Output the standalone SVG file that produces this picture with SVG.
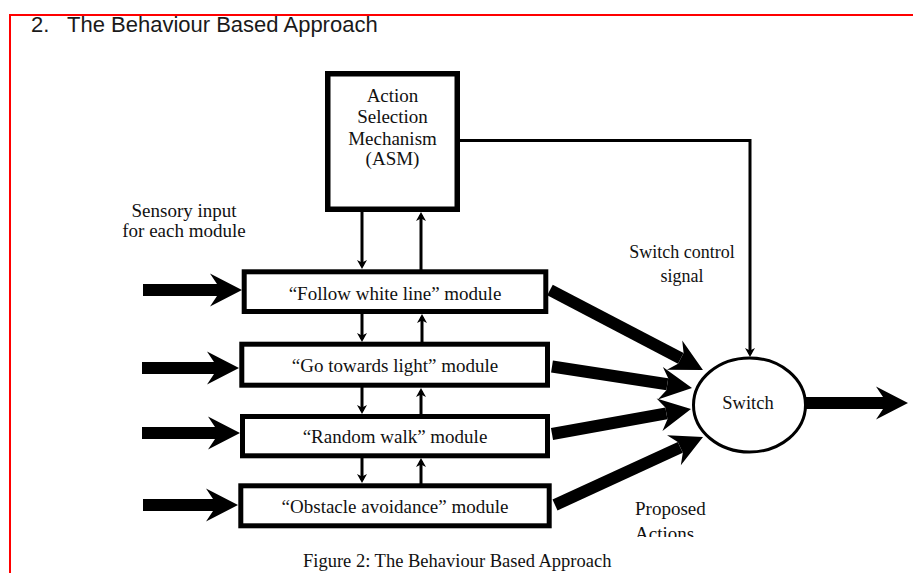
<svg xmlns="http://www.w3.org/2000/svg" width="913" height="573" viewBox="0 0 913 573">
<style>
.serif{font-family:"Liberation Serif","Times New Roman",serif;font-size:19px;fill:#111}
.mid{text-anchor:middle}
.box{fill:#fff;stroke:#000;stroke-width:5}
.thin{stroke:#000;stroke-width:3;fill:none}
.thick{stroke:#000;stroke-width:12;fill:none}
</style>
<defs>
<marker id="sh" markerUnits="userSpaceOnUse" orient="auto" refX="0" refY="0" markerWidth="20" markerHeight="20" viewBox="-10 -10 20 20" overflow="visible">
<path d="M3,0 L-6,-5 L-3.5,0 L-6,5 Z" fill="#000"/>
</marker>
<marker id="bh" markerUnits="userSpaceOnUse" orient="auto" refX="0" refY="0" markerWidth="60" markerHeight="60" viewBox="-30 -30 60 60" overflow="visible">
<path d="M25,0 L-7,-16.5 L0,-6 L0,6 L-7,16.5 Z" fill="#000"/>
</marker>
<clipPath id="clipA"><rect x="600" y="490" width="150" height="47"/></clipPath>
</defs>
<rect width="913" height="573" fill="#fff"/>
<g id="frame">
<line x1="9" y1="15" x2="913" y2="15" stroke="#f00" stroke-width="2"/>
<line x1="10" y1="14" x2="10" y2="573" stroke="#f00" stroke-width="2"/>
</g>
<text id="title" y="32" style="font-family:'Liberation Sans',Arial,sans-serif;font-size:22px;fill:#1a1a1a"><tspan x="31">2.</tspan><tspan x="67">The Behaviour Based Approach</tspan></text>

<g id="asm">
<rect class="box" x="327.75" y="73.75" width="129.5" height="135.5" style="stroke-width:5.5"/>
<text class="serif mid" x="392.5" y="101.5">Action</text>
<text class="serif mid" x="392.5" y="123">Selection</text>
<text class="serif mid" x="392.5" y="144.5">Mechanism</text>
<text class="serif mid" x="392.5" y="165">(ASM)</text>
</g>
<g id="m1">
<rect class="box" x="244.2" y="271.8" width="301.6" height="39.7"/>
<text class="serif mid" x="395" y="300">“Follow white line” module</text>
</g>
<g id="m2">
<rect class="box" x="241.8" y="344.2" width="305.7" height="41"/>
<text class="serif mid" x="395" y="372">“Go towards light” module</text>
</g>
<g id="m3">
<rect class="box" x="242.5" y="416.5" width="305" height="39.3"/>
<text class="serif mid" x="395" y="443">“Random walk” module</text>
</g>
<g id="m4">
<rect class="box" x="240.8" y="485.8" width="308.4" height="40"/>
<text class="serif mid" x="395" y="513">“Obstacle avoidance” module</text>
</g>
<g id="switch">
<ellipse cx="749.5" cy="405" rx="56" ry="47" fill="#fff" stroke="#000" stroke-width="3"/>
<text class="serif mid" x="748" y="409" style="font-size:18.5px">Switch</text>
</g>
<g id="labels">
<text class="serif mid" x="184" y="217">Sensory input</text>
<text class="serif mid" x="184" y="237">for each module</text>
<text class="serif mid" x="682" y="258" style="font-size:18px">Switch control</text>
<text class="serif mid" x="682" y="282" style="font-size:18px">signal</text>
<text class="serif" x="635" y="515">Proposed</text>
<text class="serif" x="635" y="540" clip-path="url(#clipA)">Actions</text>
<text class="serif" x="303" y="567" style="font-size:18.5px">Figure 2: The Behaviour Based Approach</text>
</g>
<g id="connectors">
<line class="thin" x1="362" y1="211" x2="362" y2="266" marker-end="url(#sh)"/>
<line class="thin" x1="421" y1="270" x2="421" y2="215" marker-end="url(#sh)"/>
<line class="thin" x1="362" y1="313" x2="362" y2="339" marker-end="url(#sh)"/>
<line class="thin" x1="422" y1="343" x2="422" y2="317" marker-end="url(#sh)"/>
<line class="thin" x1="362" y1="387" x2="362" y2="411" marker-end="url(#sh)"/>
<line class="thin" x1="421" y1="415" x2="421" y2="391" marker-end="url(#sh)"/>
<line class="thin" x1="362" y1="457" x2="362" y2="480" marker-end="url(#sh)"/>
<line class="thin" x1="421" y1="484" x2="421" y2="461" marker-end="url(#sh)"/>
<polyline class="thin" points="460,140.5 750,140.5 750,354" marker-end="url(#sh)"/>
<line class="thick" x1="143" y1="290" x2="217" y2="290" marker-end="url(#bh)"/>
<line class="thick" x1="142" y1="368" x2="214" y2="368" marker-end="url(#bh)"/>
<line class="thick" x1="142" y1="433" x2="215" y2="433" marker-end="url(#bh)"/>
<line class="thick" x1="143" y1="505" x2="213" y2="505" marker-end="url(#bh)"/>
<line class="thick" x1="550" y1="290" x2="680.8" y2="358.4" marker-end="url(#bh)"/>
<line class="thick" x1="552" y1="366.5" x2="667.3" y2="384.3" marker-end="url(#bh)"/>
<line class="thick" x1="552" y1="434" x2="666.4" y2="413.4" marker-end="url(#bh)"/>
<line class="thick" x1="555" y1="505" x2="680.3" y2="447.4" marker-end="url(#bh)"/>
<line class="thick" x1="806" y1="403" x2="883" y2="403" marker-end="url(#bh)"/>
</g>
</svg>
